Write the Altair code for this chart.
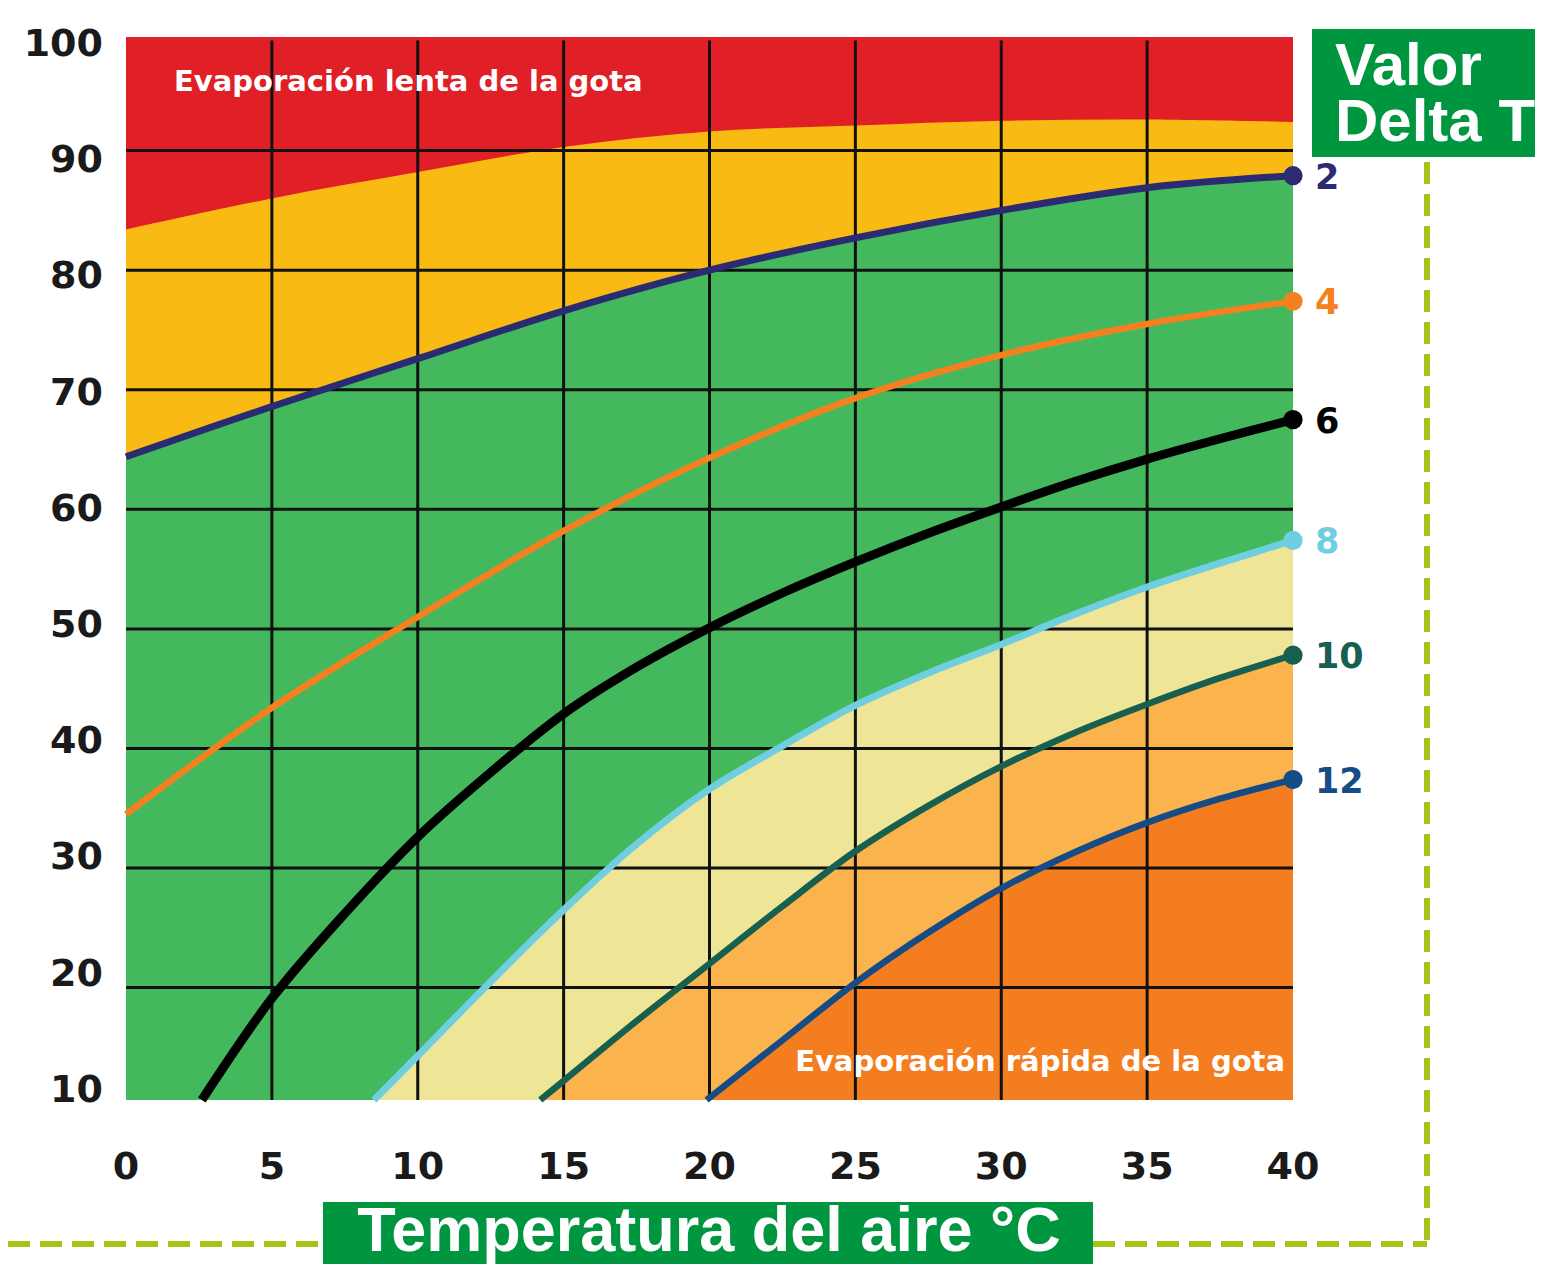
import altair as alt
import pandas as pd

# ---------------- data ----------------
X_TICKS = [0, 5, 10, 15, 20, 25, 30, 35, 40]
Y_TICKS = [10, 20, 30, 40, 50, 60, 70, 80, 90, 100]
GRID_X = [5, 10, 15, 20, 25, 30, 35]
GRID_Y = [20, 30, 40, 50, 60, 70, 80, 90]

Y_MIN, Y_MAX = 10.6, 99.5
X_MIN, X_MAX = 0, 40

TOP_X = [0, 40]
TOP_Y = [99.5, 99.5]

SLOW_X = [0, 5, 10, 15, 20, 25, 30, 35, 40]
SLOW_Y = [83.4, 86.0, 88.2, 90.3, 91.6, 92.1, 92.5, 92.6, 92.4]

DT2_X = [0, 5, 10, 15, 20, 25, 30, 35, 40]
DT2_Y = [64.4, 68.6, 72.6, 76.6, 80.0, 82.7, 85.0, 86.9, 87.9]

DT4_X = [0, 5, 10, 15, 20, 25, 30, 35, 40]
DT4_Y = [34.5, 43.4, 51.0, 58.2, 64.3, 69.3, 72.9, 75.5, 77.4]

DT6_X = [2.6, 5, 7.5, 10, 12.5, 15, 17.5, 20, 22.5, 25, 27.5, 30, 32.5, 35, 37.5, 40]
DT6_Y = [10.6, 19.1, 26.2, 32.6, 38.0, 42.9, 46.8, 50.1, 53.0, 55.6, 58.0, 60.2, 62.3, 64.2, 65.9, 67.5]

DT8_X = [8.5, 10, 12.5, 15, 17.5, 20, 22.5, 25, 27.5, 30, 32.5, 35, 37.5, 40]
DT8_Y = [10.6, 14.3, 20.5, 26.5, 32.0, 36.6, 40.2, 43.6, 46.3, 48.7, 51.2, 53.5, 55.5, 57.4]

DT10_X = [14.2, 15, 17.5, 20, 22.5, 25, 27.5, 30, 32.5, 35, 37.5, 40]
DT10_Y = [10.6, 12.2, 17.2, 22.0, 26.8, 31.4, 35.2, 38.5, 41.3, 43.7, 45.9, 47.8]

DT12_X = [19.9, 22.5, 25, 27.5, 30, 32.5, 35, 37.5, 40]
DT12_Y = [10.6, 15.6, 20.4, 24.6, 28.3, 31.3, 33.8, 35.8, 37.4]

DT_LABELS = ["2", "4", "6", "8", "10", "12"]
LINE_COLORS = ["#2B2B73", "#F58020", "#000000", "#6FCFE0", "#17604F", "#154C85"]
LINE_WIDTHS = [7, 6.5, 9, 7, 6.5, 6.5]

ZONE_COLORS = ["#E11F26", "#F9BA14", "#44B85C", "#EEE597", "#FBB34D", "#F47D20"]

TXT_SLOW = "Evaporación lenta de la gota"
TXT_FAST = "Evaporación rápida de la gota"
TXT_XTITLE = "Temperatura del aire °C"
TXT_DT = ["Valor", "Delta T"]

BOX_GREEN = "#00963F"
DASH_COLOR = "#A3C51B"
FONT = "DejaVu Sans"
TITLE_FONT = "Liberation Sans"
INTERP = "catmull-rom"

# ---------------- helpers ----------------
def frame(xs, ys):
    return pd.DataFrame({"x": xs, "y": ys, "floor": [Y_MIN] * len(xs)})

xs = alt.X("x:Q", scale=alt.Scale(domain=[X_MIN, X_MAX], nice=False, zero=False), axis=None)
ys = alt.Y("y:Q", scale=alt.Scale(domain=[Y_MIN, Y_MAX], nice=False, zero=False), axis=None)

zones = [(TOP_X, TOP_Y), (SLOW_X, SLOW_Y), (DT2_X, DT2_Y),
         (DT8_X, DT8_Y), (DT10_X, DT10_Y), (DT12_X, DT12_Y)]
area_layers = []
for (zx, zy), col in zip(zones, ZONE_COLORS):
    area_layers.append(
        alt.Chart(frame(zx, zy)).mark_area(interpolate=INTERP, color=col)
        .encode(x=xs, y=ys, y2="floor:Q")
    )

grid_v = alt.Chart(pd.DataFrame({"x": GRID_X, "y": [99.2] * len(GRID_X),
                                 "floor": [Y_MIN] * len(GRID_X)})).mark_rule(
    color="#111111", strokeWidth=3).encode(x=xs, y=ys, y2="floor:Q")
grid_h = alt.Chart(pd.DataFrame({"y": GRID_Y, "x": [X_MIN] * len(GRID_Y),
                                 "x2": [X_MAX] * len(GRID_Y)})).mark_rule(
    color="#111111", strokeWidth=3).encode(y=ys, x=xs, x2="x2:Q")

series = [(DT2_X, DT2_Y), (DT4_X, DT4_Y), (DT6_X, DT6_Y),
          (DT8_X, DT8_Y), (DT10_X, DT10_Y), (DT12_X, DT12_Y)]
line_layers = []
for (lx, ly), col, w in zip(series, LINE_COLORS, LINE_WIDTHS):
    line_layers.append(
        alt.Chart(frame(lx, ly)).mark_line(interpolate=INTERP, color=col, strokeWidth=w)
        .encode(x=xs, y=ys)
    )

end_df = pd.DataFrame({
    "x": [s[0][-1] for s in series],
    "y": [s[1][-1] for s in series],
    "label": DT_LABELS,
    "color": LINE_COLORS,
})
dots = alt.Chart(end_df).mark_circle(size=370, opacity=1).encode(
    x=xs, y=ys, color=alt.Color("color:N", scale=None))
end_labels = alt.Chart(end_df).mark_text(
    align="left", baseline="middle", dx=22, dy=2, fontSize=35, fontWeight="bold", font=FONT
).encode(x=xs, y=ys, text="label:N", color=alt.Color("color:N", scale=None))

one = pd.DataFrame({"k": [0]})
slow_txt = alt.Chart(one).mark_text(
    align="left", baseline="middle", fontSize=29, fontWeight="bold", font=FONT, color="white",
    text=TXT_SLOW).encode(x=alt.value(48), y=alt.value(45))
fast_txt = alt.Chart(one).mark_text(
    align="right", baseline="middle", fontSize=29, fontWeight="bold", font=FONT, color="white",
    text=TXT_FAST).encode(x=alt.value(1159), y=alt.value(1025))

xlabels = alt.Chart(pd.DataFrame({"x": X_TICKS})).mark_text(
    baseline="middle", fontSize=38, fontWeight="bold", font=FONT, color="#1A1A1A"
).encode(x=xs, y=alt.value(1131), text="x:Q")

# y tick labels are spaced slightly tighter than the grid in the original
ylabels = alt.Chart(pd.DataFrame({"v": Y_TICKS})).transform_calculate(
    y="98.83 - (100 - datum.v) * 0.9718"
).mark_text(
    align="right", baseline="middle", fontSize=38, fontWeight="bold", font=FONT, color="#1A1A1A"
).encode(x=alt.value(-23), y=ys, text="v:Q")

# decorations
dt_box = alt.Chart(one).mark_rect(color=BOX_GREEN).encode(
    x=alt.value(1186), x2=alt.value(1420), y=alt.value(-8), y2=alt.value(120))
dt_text = alt.Chart(one).mark_text(
    align="left", baseline="alphabetic", fontSize=60, fontWeight="bold", font=TITLE_FONT,
    color="white", lineHeight=56, text=TXT_DT).encode(x=alt.value(1209), y=alt.value(48))

x_box = alt.Chart(one).mark_rect(color=BOX_GREEN).encode(
    x=alt.value(197), x2=alt.value(967), y=alt.value(1165), y2=alt.value(1240))
x_title = alt.Chart(one).mark_text(
    align="center", baseline="alphabetic", fontSize=63, fontWeight="bold", font=TITLE_FONT,
    color="white", text=TXT_XTITLE).encode(x=alt.value(583), y=alt.value(1214))

dash = dict(color=DASH_COLOR, strokeWidth=6, strokeDash=[22, 10])
d1 = alt.Chart(one).mark_rule(**dash).encode(x=alt.value(-118), x2=alt.value(197), y=alt.value(1207))
d2 = alt.Chart(one).mark_rule(**dash).encode(x=alt.value(967), x2=alt.value(1301), y=alt.value(1207))
d3 = alt.Chart(one).mark_rule(**dash).encode(x=alt.value(1301), y=alt.value(125), y2=alt.value(1207))

chart = alt.layer(
    *area_layers, grid_v, grid_h, *line_layers, dots, end_labels,
    slow_txt, fast_txt, xlabels, ylabels,
    d1, d2, d3, x_box, x_title, dt_box, dt_text
).properties(
    width=1167,
    height=1063,
    autosize=alt.AutoSizeParams(type="none"),
    padding={"left": 118, "top": 29, "right": 242, "bottom": 164},
    background="white",
).configure_view(stroke=None)

chart.save("out.html", embed_options={"renderer": "svg", "actions": False})
